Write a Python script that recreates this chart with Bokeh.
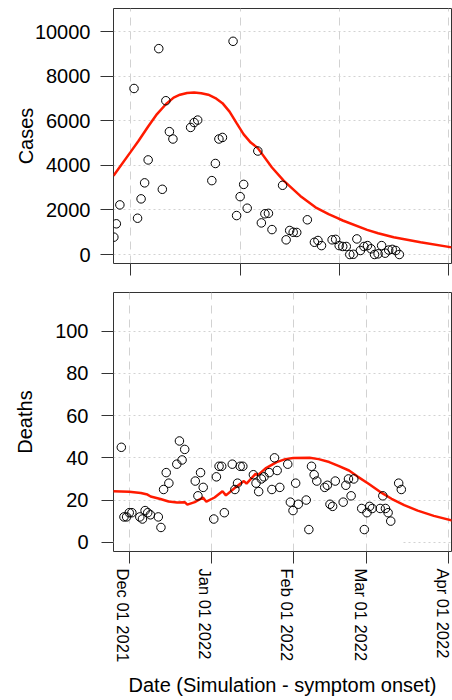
import pandas as pd
from bokeh.plotting import figure
from bokeh.layouts import column
from bokeh.models import Range1d, FixedTicker, LinearAxis
from bokeh.embed import file_html
from bokeh.resources import INLINE

FONT = "Liberation Sans"

# ---------------- data ----------------
# month ticks shared by both panels
tick_dates = ["2021-12-01", "2022-01-01", "2022-02-01", "2022-03-01", "2022-04-01"]
tick_labels = ["Dec 01 2021", "Jan 01 2022", "Feb 01 2022", "Mar 01 2022", "Apr 01 2022"]

# Cases panel: x = days since cases_start
cases_start = "2022-01-01"
cases_day = [-4.7, -4, -3, 1, 2, 3, 4, 5, 8, 9, 10, 11, 12, 17, 18, 19, 23, 24, 25, 26,
             29, 30, 31, 32, 33, 36, 37, 38, 39, 40, 43, 44, 45, 46, 47, 50, 52, 53, 54,
             57, 58, 59, 60, 61, 62, 63, 64, 65, 66, 67, 68, 69, 70, 71, 72, 73, 74, 75, 76]
cases = [780, 1380, 2230, 7460, 1630, 2500, 3220, 4250, 9250, 2930, 6910, 5520, 5190,
         5710, 5930, 6040, 3320, 4090, 5190, 5260, 9580, 1750, 2600, 3150, 2080, 4650,
         1420, 1830, 1850, 1120, 3110, 660, 1080, 1000, 990, 1560, 550, 630, 400, 660,
         680, 400, 360, 360, 0, 10, 700, 180, 360, 400, 256, 0, 30, 400, 60, 200, 230,
         180, 0]
cases_fit_day = [-4.8, 0, 2.3, 5, 7.5, 10, 12.2, 14, 16, 18, 20, 22, 24, 26, 28, 30, 32,
                 34, 36, 40, 43.3, 48, 52.3, 56, 58.4, 60, 66.9, 70, 74.4, 82, 90.8]
cases_fit = [3540, 4600, 5110, 5750, 6310, 6750, 7050, 7180, 7260, 7280, 7250, 7180, 7030,
             6800, 6420, 5900, 5400, 5030, 4780, 3910, 3318, 2633, 2121, 1818, 1646, 1528,
             1108, 956, 776, 552, 320]
cases_yticks = [0, 2000, 4000, 6000, 8000, 10000]

# Deaths panel: x = days since deaths_start
deaths_start = "2021-12-01"
deaths_day = [-3, -2, -1, 0, 1, 4, 5, 6, 7, 8, 11, 12, 13, 14, 15, 18, 19, 20, 21, 25, 26,
              27, 28, 32, 33, 34, 35, 36, 39, 40, 41, 42, 43, 47, 48, 49, 50, 51, 53, 54,
              55, 56, 57, 60, 61, 62, 63, 64, 67, 68, 69, 70, 71, 74, 75, 76, 77, 78, 81,
              82, 83, 84, 85, 88, 89, 90, 91, 92, 95, 96, 97, 98, 99, 102, 103]
deaths = [45, 12, 12, 14, 14, 12, 11, 15, 14, 13, 12, 7, 25, 33, 28, 37, 48, 39, 44, 29,
          22, 33, 26, 11, 31, 36, 36, 14, 37, 25, 28, 36, 36, 32, 28, 24, 30, 31, 33, 25,
          40, 34, 26, 37, 19, 15, 28, 18, 20, 6, 36, 32, 29, 26, 27, 18, 17, 29, 19, 27,
          30, 22, 30, 16, 6, 14, 17, 16, 16, 22, 16, 14, 10, 28, 25]
deaths_fit_day = [-7, 0, 4.4, 6.9, 8.1, 11.8, 14.9, 18.1, 21.1, 22.0, 24.8, 27.9, 29.2,
                  32.3, 35.3, 36.6, 39.7, 43.4, 44.4, 47.9, 48.7, 51.6, 55.8, 59.1, 62.1,
                  68.3, 71.7, 75.7, 79.2, 83.2, 86.6, 90.6, 94.8, 99.3, 104.1, 109.2,
                  115.3, 122.5]
deaths_fit = [24.2, 23.9, 23.3, 22.6, 21.7, 20.5, 19.3, 18.8, 18.9, 17.8, 19.0, 21.2, 19.2,
              21.2, 24.2, 22.2, 25.5, 29.0, 27.8, 32.5, 31.8, 35.0, 38.0, 39.4, 39.9, 40.0,
              39.4, 38.0, 36.2, 34.0, 31.0, 27.7, 24.0, 20.6, 17.6, 15.0, 12.5, 10.2]
deaths_yticks = [0, 20, 40, 60, 80, 100]

# ---------------- helpers ----------------
base = pd.Timestamp(deaths_start)


def shift(start, offsets):
    s = (pd.Timestamp(start) - base).days
    return [s + d for d in offsets]


tick_x = [(pd.Timestamp(d) - base).days for d in tick_dates]

GRID = "#d2d2d2"
AX = "#333333"


def style_axis(ax):
    ax.axis_line_color = None
    ax.major_tick_line_color = AX
    ax.major_tick_in = 0
    ax.minor_tick_line_color = None
    ax.major_label_text_font = FONT
    ax.major_label_text_color = "black"
    ax.axis_label_text_font = FONT
    ax.axis_label_text_font_style = "normal"
    ax.axis_label_text_font_size = "20px"
    ax.axis_label_text_color = "black"


def style(p, tick_out_y, label_standoff_y, ylabel_standoff):
    p.background_fill_color = "white"
    p.border_fill_color = "white"
    p.outline_line_color = AX
    p.outline_line_width = 1
    for ax in (p.xaxis[0], p.yaxis[0]):
        style_axis(ax)
    p.yaxis.major_tick_out = tick_out_y
    p.yaxis.major_label_text_font_size = "20px"
    p.yaxis.major_label_standoff = label_standoff_y
    p.yaxis.axis_label_standoff = ylabel_standoff
    p.xaxis.major_tick_out = 12
    p.xgrid.grid_line_color = GRID
    p.xgrid.grid_line_dash = "8 6"
    p.xgrid.grid_line_width = 1
    p.ygrid.grid_line_color = GRID
    p.ygrid.grid_line_dash = "2 3"
    p.ygrid.grid_line_width = 1


# ---------------- top panel: cases ----------------
p1 = figure(width=452, height=280, output_backend="svg", toolbar_location=None,
            x_range=Range1d(26.2, 121.75), y_range=Range1d(-404, 11054),
            min_border_left=113, min_border_right=1, min_border_top=8,
            min_border_bottom=17)
style(p1, 13, 10, -5)
p1.xaxis.ticker = FixedTicker(ticks=tick_x[1:])
p1.xaxis.major_label_overrides = {t: "" for t in tick_x[1:]}
p1.xaxis.major_label_standoff = 0
p1.yaxis.ticker = FixedTicker(ticks=cases_yticks)
p1.yaxis.axis_label = "Cases"

cx = shift(cases_start, cases_day)
cfx = shift(cases_start, cases_fit_day)
p1.line(cfx, cases_fit, line_color="#ff1a00", line_width=2.5)
p1.scatter(cx, cases, marker="circle", size=8.5, fill_color=None,
           line_color="black", line_width=1)

# ---------------- bottom panel: deaths ----------------
xr2 = (-5.96, 122.0)
p2 = figure(width=452, height=420, output_backend="svg", toolbar_location=None,
            x_range=Range1d(*xr2), y_range=Range1d(-4.4, 118.4),
            min_border_left=107, min_border_right=1, min_border_top=12,
            min_border_bottom=149)
style(p2, 12, 13, 16)
# tick marks at the month starts
p2.xaxis.ticker = FixedTicker(ticks=tick_x)
p2.xaxis.major_label_overrides = {t: "" for t in tick_x}
p2.xaxis.major_label_standoff = 0
# second axis carrying the rotated labels, nudged so the text centres on the ticks
nudge = 2.2
lab_x = [t - nudge for t in tick_x]
lab_axis = LinearAxis(ticker=FixedTicker(ticks=lab_x),
                      major_label_overrides=dict(zip(lab_x, tick_labels)))
style_axis(lab_axis)
lab_axis.major_tick_out = 0
lab_axis.major_tick_line_color = None
lab_axis.major_label_orientation = "vertical"
lab_axis.major_label_text_font_size = "16.5px"
lab_axis.major_label_standoff = 5
lab_axis.axis_label = "Date (Simulation - symptom onset)"
lab_axis.axis_label_standoff = 9
p2.add_layout(lab_axis, "below")
p2.yaxis.ticker = FixedTicker(ticks=deaths_yticks)
p2.yaxis.axis_label = "Deaths"

dx = shift(deaths_start, deaths_day)
dfx = shift(deaths_start, deaths_fit_day)
# zero gridline is hidden over the observed period
p2.line([xr2[0], max(dx)], [0, 0], line_color="white", line_width=2)
p2.line(dfx, deaths_fit, line_color="#ff1a00", line_width=2.5)
p2.scatter(dx, deaths, marker="circle", size=8.5, fill_color=None,
           line_color="black", line_width=1)

layout = column(p1, p2, spacing=0)
open("out.html", "w").write(file_html(layout, INLINE))
